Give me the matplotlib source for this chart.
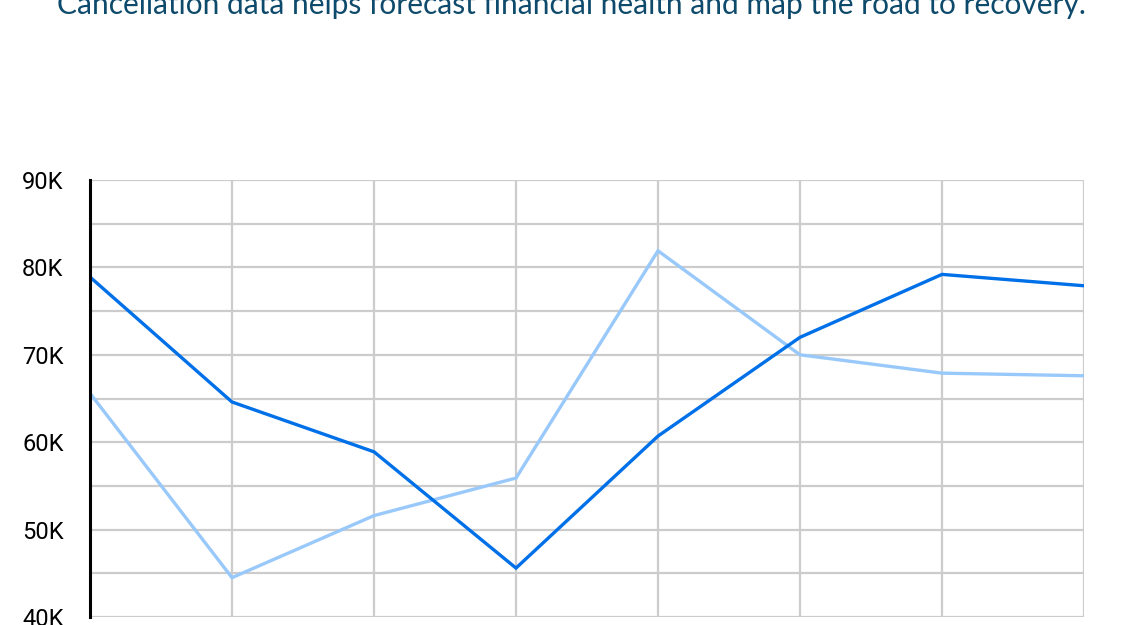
import matplotlib.pyplot as plt
from matplotlib.ticker import MultipleLocator, FuncFormatter

plt.rcParams['font.family'] = ['Roboto', 'DejaVu Sans']

title = "Cancellation data helps forecast financial health and map the road to recovery."
periods = list(range(8))
series_dark = [78.9, 64.6, 58.9, 45.6, 60.7, 72.0, 79.2, 77.9]
series_light = [65.6, 44.5, 51.6, 55.9, 81.9, 70.0, 67.9, 67.6]

fig = plt.figure(figsize=(11.27, 6.25), dpi=100)
ax = fig.add_axes([90 / 1127, 8 / 625, (1084 - 90) / 1127, (617 - 180) / 625])

ax.plot(periods, series_light, color='#99c9fa', linewidth=2.4, solid_joinstyle='miter', zorder=3)
ax.plot(periods, series_dark, color='#0070e8', linewidth=2.4, solid_joinstyle='miter', zorder=4)

ax.set_xlim(0, 7)
ax.set_ylim(40, 90)
ax.yaxis.set_major_locator(MultipleLocator(10))
ax.yaxis.set_minor_locator(MultipleLocator(5))
ax.yaxis.set_major_formatter(FuncFormatter(lambda v, p: f"{int(v)}K"))
ax.set_xticks(periods)
ax.set_xticklabels([])
ax.grid(True, which='both', color='#cccccc', linewidth=1.6, zorder=0)
ax.set_axisbelow(True)
ax.tick_params(axis='both', which='both', length=0)
ax.tick_params(axis='y', labelsize=17, pad=19)

for s in ['top', 'right', 'bottom']:
    ax.spines[s].set_visible(False)
ax.spines['left'].set_color('black')
ax.spines['left'].set_linewidth(2.2)
ax.spines['left'].set_zorder(5)

t = fig.text(571 / 1127, 1 - 14 / 625, title, ha='center', va='baseline', fontsize=20,
             color='#0d4a6b', family='Lato')
# scale title to the reference width
fig.canvas.draw()
w = t.get_window_extent().width
t.set_fontsize(20 * 1028 / w)

fig.savefig('out.png', dpi=100)
